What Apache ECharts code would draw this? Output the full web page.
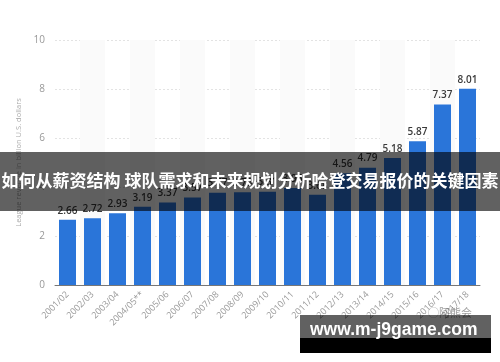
<!DOCTYPE html>
<html>
<head>
<meta charset="utf-8">
<script src="https://cdn.jsdelivr.net/npm/echarts@6/dist/echarts.min.js"></script>
<style>html,body{margin:0;padding:0;background:#fff;}#c{width:500px;height:362px;}</style>
</head>
<body>
<div id="c"></div>
<script>
const categories = ['2001/02','2002/03','2003/04','2004/05**','2005/06','2006/07','2007/08','2008/09','2009/10','2010/11','2011/12','2012/13','2013/14','2014/15','2015/16','2016/17','2017/18'];
const revenue = [2.66,2.72,2.93,3.19,3.37,3.57,3.77,3.79,3.81,3.96,3.68,4.56,4.79,5.18,5.87,7.37,8.01];
const yTicks = [0,2,4,6,8,10];
const yAxisName = 'League revenue in billion U.S. dollars';
const bannerText = '如何从薪资结构 球队需求和未来规划分析哈登交易报价的关键因素';
const watermarkText = 'www.m-j9game.com';
const sourceMark = '◯阿熊会';

const chart = echarts.init(document.getElementById('c'), null, {renderer:'canvas'});
chart.setOption({
  animation:false,
  backgroundColor:'#fff',
  grid:{left:55,right:20,top:40,bottom:77},
  xAxis:{
    type:'category',
    data:categories,
    axisLine:{lineStyle:{color:'#777',width:1}},
    axisTick:{show:false},
    axisLabel:{rotate:45,color:'#999',fontSize:9,fontFamily:'Open Sans',margin:8,interval:0},
    splitArea:{show:true,areaStyle:{color:['rgba(255,255,255,0)','#fafafa']}}
  },
  yAxis:{
    type:'value',min:yTicks[0],max:yTicks[yTicks.length-1],interval:2,
    name:yAxisName,nameLocation:'middle',nameGap:27,
    nameTextStyle:{color:'#aaa',fontSize:7.5,fontFamily:'Open Sans'},
    axisLine:{show:false},axisTick:{show:false},
    axisLabel:{color:'#999',fontSize:10,fontFamily:'Open Sans',margin:10},
    splitLine:{lineStyle:{color:'#e3e3e3',type:[2,2]}}
  },
  series:[{
    type:'bar',data:revenue,barWidth:'68%',
    itemStyle:{color:'#2a75d9'},
    label:{show:true,position:'top',color:'#3a3a3a',fontSize:10,fontWeight:600,fontFamily:'Open Sans',distance:4,formatter:p=>p.value.toFixed(2)},
    z:2
  }],
  graphic:[
    {type:'text',left:428,top:307,z:50,style:{text:sourceMark,fill:'rgba(90,90,90,0.6)',font:'11px "Noto Sans CJK SC"'}},
    {type:'rect',left:0,top:152,z:100,shape:{width:500,height:59},style:{fill:'rgba(0,0,0,0.62)'}},
    {type:'text',left:'center',top:172,z:101,style:{text:bannerText,fill:'#fff',font:'bold 17px "Noto Sans CJK SC"'}},
    {type:'rect',left:300,top:315,z:100,shape:{width:191,height:23},style:{fill:'rgba(0,0,0,0.62)'}},
    {type:'rect',left:300,top:338,z:100,shape:{width:191,height:15},style:{fill:'#000'}},
    {type:'text',left:310,top:321,z:101,style:{text:watermarkText,fill:'#fff',font:'bold 17.5px "Liberation Sans"'}}
  ]
});
</script>
</body>
</html>
